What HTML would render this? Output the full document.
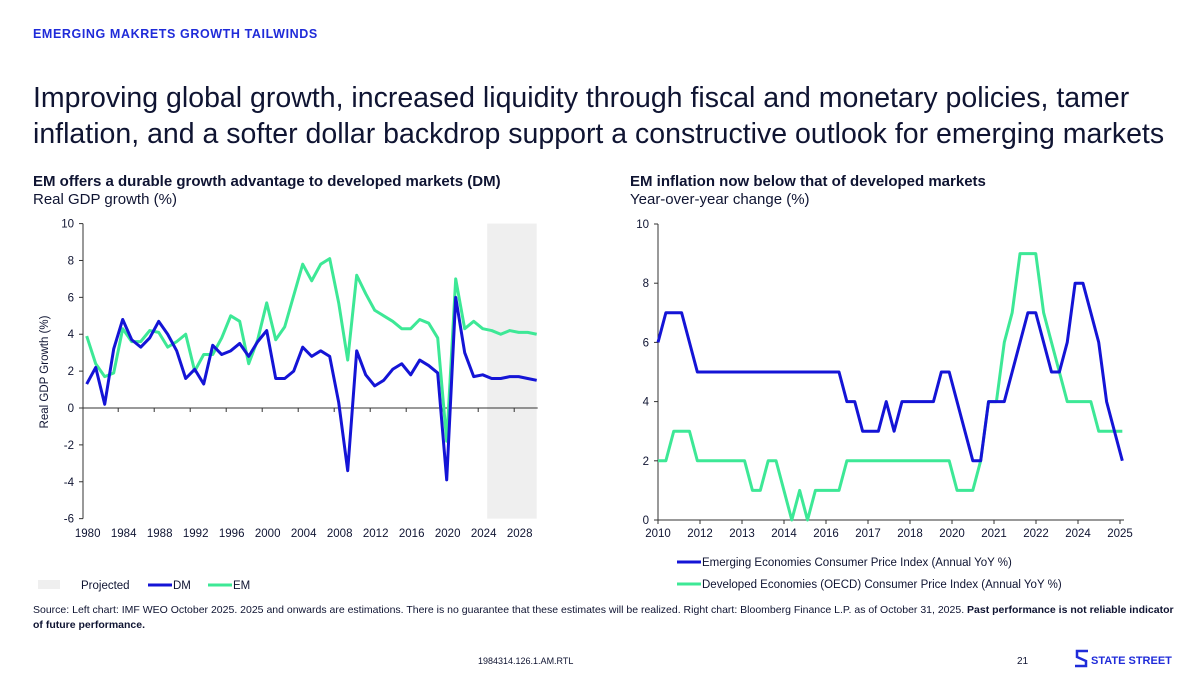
<!DOCTYPE html>
<html><head><meta charset="utf-8"><style>
body{margin:0;background:#fff;}
svg{display:block;font-family:"Liberation Sans",Arial,sans-serif;}
</style></head><body>
<svg id="page" width="1200" height="673" viewBox="0 0 1200 673">
<text x="33" y="38" font-size="12.5" font-weight="bold" fill="#1f2bd9" letter-spacing="0.6">EMERGING MAKRETS GROWTH TAILWINDS</text>
<text x="33" y="107" font-size="28.5" fill="#0f1432">Improving global growth, increased liquidity through fiscal and monetary policies, tamer</text>
<text x="33" y="143" font-size="28.5" fill="#0f1432">inflation, and a softer dollar backdrop support a constructive outlook for emerging markets</text>
<text x="33" y="186" font-size="15" font-weight="bold" fill="#0f1432">EM offers a durable growth advantage to developed markets (DM)</text>
<text x="33" y="204" font-size="15" fill="#0f1432">Real GDP growth (%)</text>
<text x="630" y="186" font-size="15" font-weight="bold" fill="#0f1432">EM inflation now below that of developed markets</text>
<text x="630" y="204" font-size="15" fill="#0f1432">Year-over-year change (%)</text>
<g id="left"></g>
<g id="right"></g>
<text x="33" y="613" font-size="10.5" fill="#0f1432">Source: Left chart: IMF WEO October 2025. 2025 and onwards are estimations. There is no guarantee that these estimates will be realized.  Right chart: Bloomberg Finance L.P. as of October 31, 2025.  <tspan font-weight="bold">Past performance is not reliable indicator</tspan></text>
<text x="33" y="628" font-size="10.5" font-weight="bold" fill="#0f1432">of future performance.</text>
<text x="478" y="664" font-size="9" fill="#0f1432">1984314.126.1.AM.RTL</text>
<text x="1017" y="664" font-size="10" fill="#0f1432">21</text>
<g>
<path d="M1088 651 L1077 651 L1077 657 L1086 661 L1086 666 L1075 666" fill="none" stroke="#1f2bd9" stroke-width="2.5"/>
<text x="1091" y="664" font-size="11" font-weight="bold" fill="#1f2bd9">STATE STREET</text>
</g>
</svg>
<script>
const NS="http://www.w3.org/2000/svg";
const BLUE="#1414d6", GREEN="#3de896", INK="#0f1432";
// Left chart data
const gdpYears=[];for(let y=1980;y<=2030;y++)gdpYears.push(y);
const dmGrowth=[1.3,2.2,0.2,3.2,4.8,3.7,3.3,3.8,4.7,4.0,3.1,1.6,2.1,1.3,3.4,2.9,3.1,3.5,2.8,3.6,4.2,1.6,1.6,2.0,3.3,2.8,3.1,2.8,0.3,-3.4,3.1,1.8,1.2,1.5,2.1,2.4,1.8,2.6,2.3,1.9,-3.9,6.0,3.0,1.7,1.8,1.6,1.6,1.7,1.7,1.6,1.5];
const emGrowth=[3.9,2.4,1.7,1.9,4.3,3.6,3.6,4.2,4.1,3.3,3.6,4.0,2.0,2.9,2.9,3.8,5.0,4.7,2.4,3.7,5.7,3.7,4.4,6.1,7.8,6.9,7.8,8.1,5.7,2.6,7.2,6.2,5.3,5.0,4.7,4.3,4.3,4.8,4.6,3.8,-1.8,7.0,4.3,4.7,4.3,4.2,4.0,4.2,4.1,4.1,4.0];
const gdpYTicks=[10,8,6,4,2,0,-2,-4,-6];
const gdpXLabels=[1980,1984,1988,1992,1996,2000,2004,2008,2012,2016,2020,2024,2028];
const projectedStart=2025;
// Right chart data
const cpiXLabels=["2010","2012","2013","2014","2016","2017","2018","2020","2021","2022","2024","2025"];
const emCpi=[6,7,7,7,6,5,5,5,5,5,5,5,5,5,5,5,5,5,5,5,5,5,5,5,4,4,3,3,3,4,3,4,4,4,4,4,5,5,4,3,2,2,4,4,4,5,6,7,7,6,5,5,6,8,8,7,6,4,3,2];
const dmCpi=[2,2,3,3,3,2,2,2,2,2,2,2,1,1,2,2,1,0,1,0,1,1,1,1,2,2,2,2,2,2,2,2,2,2,2,2,2,2,1,1,1,2,4,4,6,7,9,9,9,7,6,5,4,4,4,4,3,3,3,3];
const cpiYTicks=[10,8,6,4,2,0];

function el(parent,tag,attrs,text){const e=document.createElementNS(NS,tag);for(const k in attrs)e.setAttribute(k,attrs[k]);if(text!==undefined)e.textContent=text;parent.appendChild(e);return e;}

// LEFT
const L=document.getElementById('left');
const lx=y=>86.7+(y-1980)*9;
const ly=v=>408-v*18.44;
const shade=el(L,'rect',{x:lx(projectedStart)-4.5,y:ly(10),width:lx(2030)-lx(projectedStart)+4.5,height:ly(-6)-ly(10),fill:"#efefef"});


el(L,'line',{x1:83,y1:ly(10),x2:83,y2:ly(-6),stroke:"#333",'stroke-width':1});
el(L,'line',{x1:83,y1:ly(0),x2:lx(2030)+1,y2:ly(0),stroke:"#333",'stroke-width':1});
gdpYTicks.forEach(v=>{
  el(L,'line',{x1:79,y1:ly(v),x2:83,y2:ly(v),stroke:"#333"});
  const t=el(L,'text',{x:74,y:ly(v)+4,'font-size':11.5,'text-anchor':'end',fill:INK},String(v));
  
  
});
for(let y=1983.5;y<=2030;y+=4){el(L,'line',{x1:lx(y),y1:ly(0),x2:lx(y),y2:ly(0)+4,stroke:"#333"});}
gdpXLabels.forEach(y=>{
  const t=el(L,'text',{x:lx(y)+1,y:537,'font-size':11.5,'text-anchor':'middle',fill:INK},String(y));
  
  
});
const yt=el(L,'text',{x:0,y:0,'font-size':11.5,'text-anchor':'middle',fill:INK,transform:"translate(48,372) rotate(-90)"},"Real GDP Growth (%)");


function poly(g,xs,ys,fx,fy,color){return el(g,'polyline',{points:xs.map((x,i)=>fx(x)+","+fy(ys[i])).join(" "),fill:"none",stroke:color,'stroke-width':3,'stroke-linejoin':'round'});}
const emL=poly(L,gdpYears,emGrowth,lx,ly,GREEN);


const dmL=poly(L,gdpYears,dmGrowth,lx,ly,BLUE);


// left legend
const lg=el(L,'g',{});


el(lg,'rect',{x:38,y:580,width:22,height:9,fill:"#efefef"});
el(lg,'text',{x:81,y:589,'font-size':11.5,fill:INK},"Projected");
el(lg,'line',{x1:148,y1:585,x2:172,y2:585,stroke:BLUE,'stroke-width':3});
el(lg,'text',{x:173,y:589,'font-size':11.5,fill:INK},"DM");
el(lg,'line',{x1:208,y1:585,x2:232,y2:585,stroke:GREEN,'stroke-width':3});
el(lg,'text',{x:233,y:589,'font-size':11.5,fill:INK},"EM");

// RIGHT
const R=document.getElementById('right');
const rx=i=>658+i*7.87;
const ry=v=>520-v*29.6;
const lab=i=>658+i*42;
el(R,'line',{x1:658,y1:ry(10),x2:658,y2:ry(0),stroke:"#333"});
el(R,'line',{x1:658,y1:ry(0),x2:1124,y2:ry(0),stroke:"#333"});
cpiYTicks.forEach(v=>{
  el(R,'line',{x1:654,y1:ry(v),x2:658,y2:ry(v),stroke:"#333"});
  const t=el(R,'text',{x:649,y:ry(v)+4,'font-size':11.5,'text-anchor':'end',fill:INK},String(v));
  
  
});
cpiXLabels.forEach((s,i)=>{
  el(R,'line',{x1:lab(i),y1:ry(0),x2:lab(i),y2:ry(0)+4,stroke:"#333"});
  const t=el(R,'text',{x:lab(i),y:537,'font-size':11.5,'text-anchor':'middle',fill:INK},s);
  
  
});
const idx=emCpi.map((_,i)=>i);
const dmR=poly(R,idx,dmCpi,rx,ry,GREEN);


const emR=poly(R,idx,emCpi,rx,ry,BLUE);


const rg=el(R,'g',{});


el(rg,'line',{x1:677,y1:562,x2:701,y2:562,stroke:BLUE,'stroke-width':3});
el(rg,'text',{x:702,y:566,'font-size':11.5,fill:INK},"Emerging Economies Consumer Price Index (Annual YoY %)");
el(rg,'line',{x1:677,y1:584,x2:701,y2:584,stroke:GREEN,'stroke-width':3});
el(rg,'text',{x:702,y:588,'font-size':11.5,fill:INK},"Developed Economies (OECD) Consumer Price Index (Annual YoY %)");
</script>
</body></html>
